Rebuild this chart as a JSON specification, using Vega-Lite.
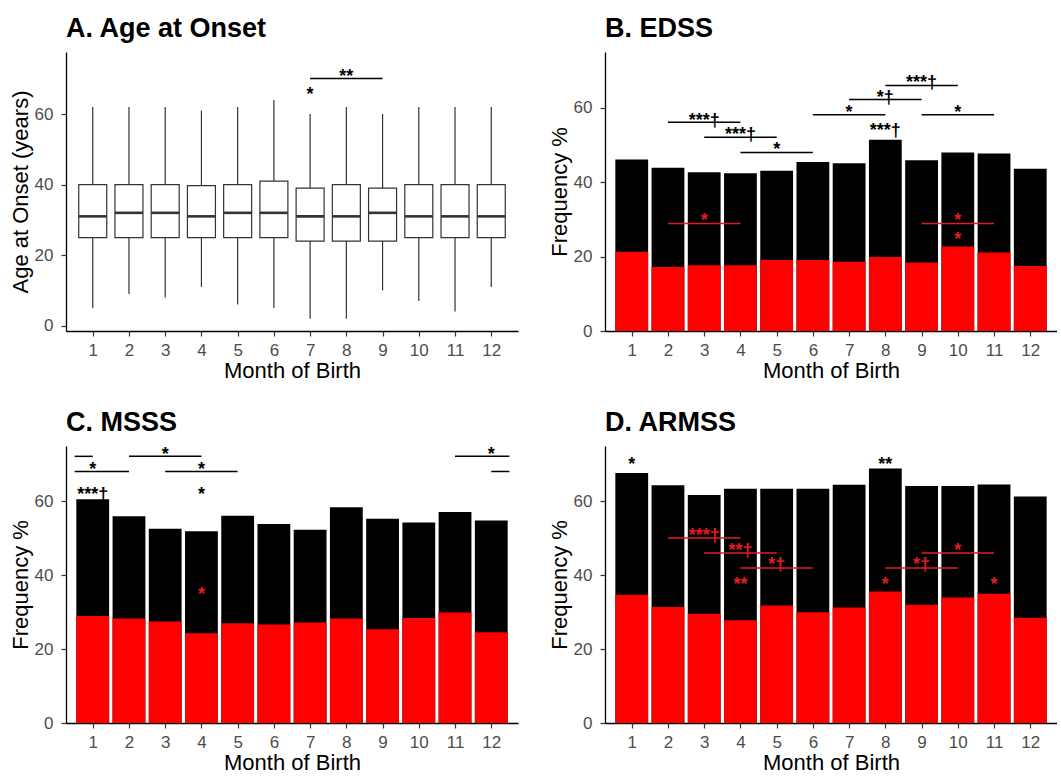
{
  "$schema": "https://vega.github.io/schema/vega-lite/v6.json",
  "padding": {"left": 9, "top": 15, "right": 0, "bottom": 0},
  "background": "white",
  "columns": 2,
  "spacing": {"row": 115, "column": 87},
  "bounds": "flush",
  "config": {
    "font": "Liberation Sans",
    "view": {"stroke": null},
    "axis": {"grid": false, "domainColor": "black", "domainWidth": 1.3, "tickColor": "#333333", "tickWidth": 1.2, "tickSize": 5, "labelColor": "#4d4d4d", "labelFontSize": 17, "labelFont": "Liberation Sans", "titleFont": "Liberation Sans", "titleFontSize": 22, "titleFontWeight": "normal", "titleColor": "black", "labelFlush": false},
    "axisX": {"labelPadding": 6, "titlePadding": 2},
    "axisY": {"labelPadding": 8, "titlePadding": 2},
    "title": {"anchor": "start", "frame": "group", "fontSize": 27, "fontWeight": "bold", "font": "Liberation Sans", "color": "black", "offset": 9, "baseline": "alphabetic"}
  },
  "datasets": {
    "box": [
      {"month": 1, "lo": 5, "q1": 25, "med": 31, "q3": 40, "hi": 62},
      {"month": 2, "lo": 9, "q1": 25, "med": 32, "q3": 40, "hi": 62},
      {"month": 3, "lo": 8, "q1": 25, "med": 32, "q3": 40, "hi": 62},
      {"month": 4, "lo": 11, "q1": 25, "med": 31, "q3": 39.7, "hi": 61},
      {"month": 5, "lo": 6, "q1": 25, "med": 32, "q3": 40, "hi": 62},
      {"month": 6, "lo": 5, "q1": 25, "med": 32, "q3": 41, "hi": 64},
      {"month": 7, "lo": 2, "q1": 24, "med": 31, "q3": 39, "hi": 60},
      {"month": 8, "lo": 2, "q1": 24, "med": 31, "q3": 40, "hi": 62},
      {"month": 9, "lo": 10, "q1": 24, "med": 32, "q3": 39, "hi": 60},
      {"month": 10, "lo": 7, "q1": 25, "med": 31, "q3": 40, "hi": 62},
      {"month": 11, "lo": 4, "q1": 25, "med": 31, "q3": 40, "hi": 62},
      {"month": 12, "lo": 11, "q1": 25, "med": 31, "q3": 40, "hi": 62}
    ],
    "segA": [{"month": 7, "month2": 9, "y": 70.1, "color": "black"}],
    "txtA": [
      {"month": 8, "y": 71.8, "label": "**", "color": "black"},
      {"month": 7, "y": 66.9, "label": "*", "color": "black"}
    ],
    "edss": [
      {"month": 1, "total": 46.1, "red": 21.3},
      {"month": 2, "total": 43.9, "red": 17.2},
      {"month": 3, "total": 42.7, "red": 17.7},
      {"month": 4, "total": 42.4, "red": 17.7},
      {"month": 5, "total": 43.1, "red": 19.1},
      {"month": 6, "total": 45.4, "red": 19.1},
      {"month": 7, "total": 45.1, "red": 18.6},
      {"month": 8, "total": 51.4, "red": 19.9},
      {"month": 9, "total": 45.9, "red": 18.4},
      {"month": 10, "total": 48.0, "red": 22.7},
      {"month": 11, "total": 47.7, "red": 21.1},
      {"month": 12, "total": 43.6, "red": 17.5}
    ],
    "segB": [
      {"month": 2, "month2": 4, "y": 56.1, "color": "black"},
      {"month": 3, "month2": 5, "y": 52.1, "color": "black"},
      {"month": 4, "month2": 6, "y": 48.0, "color": "black"},
      {"month": 6, "month2": 8, "y": 58.1, "color": "black"},
      {"month": 7, "month2": 9, "y": 62.2, "color": "black"},
      {"month": 8, "month2": 10, "y": 66.0, "color": "black"},
      {"month": 9, "month2": 11, "y": 58.1, "color": "black"},
      {"month": 2, "month2": 4, "y": 28.9, "color": "#e01e1e"},
      {"month": 9, "month2": 11, "y": 28.9, "color": "#e01e1e"}
    ],
    "txtB": [
      {"month": 3, "y": 57.9, "label": "***†", "color": "black"},
      {"month": 4, "y": 54.1, "label": "***†", "color": "black"},
      {"month": 5, "y": 50.0, "label": "*", "color": "black"},
      {"month": 7, "y": 59.9, "label": "*", "color": "black"},
      {"month": 8, "y": 64.0, "label": "*†", "color": "black"},
      {"month": 9, "y": 68.0, "label": "***†", "color": "black"},
      {"month": 10, "y": 59.9, "label": "*", "color": "black"},
      {"month": 8, "y": 55.0, "label": "***†", "color": "black"},
      {"month": 3, "y": 30.9, "label": "*", "color": "#e01e1e"},
      {"month": 10, "y": 30.9, "label": "*", "color": "#e01e1e"},
      {"month": 10, "y": 25.9, "label": "*", "color": "#e01e1e"}
    ],
    "msss": [
      {"month": 1, "total": 60.6, "red": 29.0},
      {"month": 2, "total": 56.0, "red": 28.3},
      {"month": 3, "total": 52.6, "red": 27.5},
      {"month": 4, "total": 51.9, "red": 24.3},
      {"month": 5, "total": 56.1, "red": 27.0},
      {"month": 6, "total": 53.9, "red": 26.7},
      {"month": 7, "total": 52.3, "red": 27.2},
      {"month": 8, "total": 58.4, "red": 28.3},
      {"month": 9, "total": 55.3, "red": 25.4},
      {"month": 10, "total": 54.3, "red": 28.4},
      {"month": 11, "total": 57.1, "red": 29.9},
      {"month": 12, "total": 54.8, "red": 24.6}
    ],
    "segC": [
      {"month": 0.5, "month2": 1, "y": 72.2, "color": "black"},
      {"month": 11, "month2": 12.5, "y": 72.2, "color": "black"},
      {"month": 2, "month2": 4, "y": 72.2, "color": "black"},
      {"month": 0.5, "month2": 2, "y": 68.1, "color": "black"},
      {"month": 12, "month2": 12.5, "y": 68.1, "color": "black"},
      {"month": 3, "month2": 5, "y": 68.1, "color": "black"}
    ],
    "txtC": [
      {"month": 12, "y": 74.0, "label": "*", "color": "black"},
      {"month": 3, "y": 74.0, "label": "*", "color": "black"},
      {"month": 1, "y": 69.9, "label": "*", "color": "black"},
      {"month": 4, "y": 69.9, "label": "*", "color": "black"},
      {"month": 1, "y": 63.2, "label": "***†", "color": "black"},
      {"month": 4, "y": 63.2, "label": "*", "color": "black"},
      {"month": 4, "y": 36.1, "label": "*", "color": "#e01e1e"}
    ],
    "armss": [
      {"month": 1, "total": 67.7, "red": 34.7},
      {"month": 2, "total": 64.4, "red": 31.4},
      {"month": 3, "total": 61.7, "red": 29.6},
      {"month": 4, "total": 63.4, "red": 27.8},
      {"month": 5, "total": 63.4, "red": 31.8},
      {"month": 6, "total": 63.4, "red": 30.0},
      {"month": 7, "total": 64.5, "red": 31.3},
      {"month": 8, "total": 68.9, "red": 35.6},
      {"month": 9, "total": 64.2, "red": 32.0},
      {"month": 10, "total": 64.2, "red": 34.0},
      {"month": 11, "total": 64.6, "red": 35.0},
      {"month": 12, "total": 61.3, "red": 28.5}
    ],
    "segD": [
      {"month": 2, "month2": 4, "y": 50.1, "color": "#e01e1e"},
      {"month": 3, "month2": 5, "y": 46.0, "color": "#e01e1e"},
      {"month": 4, "month2": 6, "y": 42.0, "color": "#e01e1e"},
      {"month": 8, "month2": 10, "y": 42.0, "color": "#e01e1e"},
      {"month": 9, "month2": 11, "y": 46.0, "color": "#e01e1e"}
    ],
    "txtD": [
      {"month": 1, "y": 71.1, "label": "*", "color": "black"},
      {"month": 8, "y": 71.1, "label": "**", "color": "black"},
      {"month": 3, "y": 51.9, "label": "***†", "color": "#e01e1e"},
      {"month": 4, "y": 48.0, "label": "**†", "color": "#e01e1e"},
      {"month": 5, "y": 44.0, "label": "*†", "color": "#e01e1e"},
      {"month": 9, "y": 44.0, "label": "*†", "color": "#e01e1e"},
      {"month": 10, "y": 48.0, "label": "*", "color": "#e01e1e"},
      {"month": 4, "y": 38.8, "label": "**", "color": "#e01e1e"},
      {"month": 8, "y": 38.8, "label": "*", "color": "#e01e1e"},
      {"month": 11, "y": 38.8, "label": "*", "color": "#e01e1e"}
    ]
  },
  "concat": [
    {
      "width": 452, "height": 279,
      "title": {"text": "A. Age at Onset"},
      "layer": [
        {"data": {"name": "box"}, "mark": {"type": "rule", "color": "#333333", "strokeWidth": 1.2},
         "encoding": {
           "x": {"field": "month", "type": "quantitative", "title": "Month of Birth", "scale": {"domain": [0.4, 12.6], "nice": false, "zero": false}, "axis": {"values": [1,2,3,4,5,6,7,8,9,10,11,12], "format": "d"}},
           "y": {"field": "lo", "type": "quantitative", "title": "Age at Onset (years)", "scale": {"domain": [-1.5, 77.6], "nice": false, "zero": false}, "axis": {"values": [0, 20, 40, 60]}},
           "y2": {"field": "hi"}}},
        {"data": {"name": "box"}, "mark": {"type": "bar", "size": 28, "fill": "white", "stroke": "#333333", "strokeWidth": 1.2},
         "encoding": {
           "x": {"field": "month", "type": "quantitative", "title": "Month of Birth"},
           "y": {"field": "q1", "type": "quantitative", "title": "Age at Onset (years)"},
           "y2": {"field": "q3"}}},
        {"data": {"name": "box"}, "mark": {"type": "tick", "orient": "horizontal", "size": 28, "thickness": 2.6, "color": "#333333", "opacity": 1},
         "encoding": {
           "x": {"field": "month", "type": "quantitative", "title": "Month of Birth"},
           "y": {"field": "med", "type": "quantitative", "title": "Age at Onset (years)"}}},
        {"data": {"name": "segA"}, "mark": {"type": "rule", "strokeWidth": 1.5},
         "encoding": {
           "x": {"field": "month", "type": "quantitative", "title": "Month of Birth"},
           "x2": {"field": "month2"},
           "y": {"field": "y", "type": "quantitative", "title": "Age at Onset (years)"},
           "color": {"field": "color", "type": "nominal", "scale": null}}},
        {"data": {"name": "txtA"}, "mark": {"type": "text", "fontSize": 18, "fontWeight": "bold", "baseline": "middle", "align": "center", "dy": 5},
         "encoding": {
           "x": {"field": "month", "type": "quantitative", "title": "Month of Birth"},
           "y": {"field": "y", "type": "quantitative", "title": "Age at Onset (years)"},
           "text": {"field": "label"},
           "color": {"field": "color", "type": "nominal", "scale": null}}}
      ]
    },
    {
      "width": 452, "height": 279,
      "title": {"text": "B. EDSS"},
      "layer": [
        {"data": {"name": "edss"}, "mark": {"type": "bar", "size": 32.8, "color": "black"},
         "encoding": {
           "x": {"field": "month", "type": "quantitative", "title": "Month of Birth", "scale": {"domain": [0.4, 12.6], "nice": false, "zero": false}, "axis": {"values": [1,2,3,4,5,6,7,8,9,10,11,12], "format": "d"}},
           "y": {"field": "total", "type": "quantitative", "title": "Frequency %", "scale": {"domain": [0, 75], "nice": false}, "axis": {"values": [0, 20, 40, 60]}}}},
        {"data": {"name": "edss"}, "mark": {"type": "bar", "size": 32.8, "color": "#ff0000"},
         "encoding": {
           "x": {"field": "month", "type": "quantitative", "title": "Month of Birth"},
           "y": {"field": "red", "type": "quantitative", "title": "Frequency %"}}},
        {"data": {"name": "segB"}, "mark": {"type": "rule", "strokeWidth": 1.5},
         "encoding": {
           "x": {"field": "month", "type": "quantitative", "title": "Month of Birth"},
           "x2": {"field": "month2"},
           "y": {"field": "y", "type": "quantitative", "title": "Frequency %"},
           "color": {"field": "color", "type": "nominal", "scale": null}}},
        {"data": {"name": "txtB"}, "mark": {"type": "text", "fontSize": 18, "fontWeight": "bold", "baseline": "middle", "align": "center", "dy": 5},
         "encoding": {
           "x": {"field": "month", "type": "quantitative", "title": "Month of Birth"},
           "y": {"field": "y", "type": "quantitative", "title": "Frequency %"},
           "text": {"field": "label"},
           "color": {"field": "color", "type": "nominal", "scale": null}}}
      ]
    },
    {
      "width": 452, "height": 277,
      "title": {"text": "C. MSSS"},
      "layer": [
        {"data": {"name": "msss"}, "mark": {"type": "bar", "size": 32.8, "color": "black"},
         "encoding": {
           "x": {"field": "month", "type": "quantitative", "title": "Month of Birth", "scale": {"domain": [0.4, 12.6], "nice": false, "zero": false}, "axis": {"values": [1,2,3,4,5,6,7,8,9,10,11,12], "format": "d"}},
           "y": {"field": "total", "type": "quantitative", "title": "Frequency %", "scale": {"domain": [0, 75], "nice": false}, "axis": {"values": [0, 20, 40, 60]}}}},
        {"data": {"name": "msss"}, "mark": {"type": "bar", "size": 32.8, "color": "#ff0000"},
         "encoding": {
           "x": {"field": "month", "type": "quantitative", "title": "Month of Birth"},
           "y": {"field": "red", "type": "quantitative", "title": "Frequency %"}}},
        {"data": {"name": "segC"}, "mark": {"type": "rule", "strokeWidth": 1.5},
         "encoding": {
           "x": {"field": "month", "type": "quantitative", "title": "Month of Birth"},
           "x2": {"field": "month2"},
           "y": {"field": "y", "type": "quantitative", "title": "Frequency %"},
           "color": {"field": "color", "type": "nominal", "scale": null}}},
        {"data": {"name": "txtC"}, "mark": {"type": "text", "fontSize": 18, "fontWeight": "bold", "baseline": "middle", "align": "center", "dy": 5},
         "encoding": {
           "x": {"field": "month", "type": "quantitative", "title": "Month of Birth"},
           "y": {"field": "y", "type": "quantitative", "title": "Frequency %"},
           "text": {"field": "label"},
           "color": {"field": "color", "type": "nominal", "scale": null}}}
      ]
    },
    {
      "width": 452, "height": 277,
      "title": {"text": "D. ARMSS"},
      "layer": [
        {"data": {"name": "armss"}, "mark": {"type": "bar", "size": 32.8, "color": "black"},
         "encoding": {
           "x": {"field": "month", "type": "quantitative", "title": "Month of Birth", "scale": {"domain": [0.4, 12.6], "nice": false, "zero": false}, "axis": {"values": [1,2,3,4,5,6,7,8,9,10,11,12], "format": "d"}},
           "y": {"field": "total", "type": "quantitative", "title": "Frequency %", "scale": {"domain": [0, 75], "nice": false}, "axis": {"values": [0, 20, 40, 60]}}}},
        {"data": {"name": "armss"}, "mark": {"type": "bar", "size": 32.8, "color": "#ff0000"},
         "encoding": {
           "x": {"field": "month", "type": "quantitative", "title": "Month of Birth"},
           "y": {"field": "red", "type": "quantitative", "title": "Frequency %"}}},
        {"data": {"name": "segD"}, "mark": {"type": "rule", "strokeWidth": 1.5},
         "encoding": {
           "x": {"field": "month", "type": "quantitative", "title": "Month of Birth"},
           "x2": {"field": "month2"},
           "y": {"field": "y", "type": "quantitative", "title": "Frequency %"},
           "color": {"field": "color", "type": "nominal", "scale": null}}},
        {"data": {"name": "txtD"}, "mark": {"type": "text", "fontSize": 18, "fontWeight": "bold", "baseline": "middle", "align": "center", "dy": 5},
         "encoding": {
           "x": {"field": "month", "type": "quantitative", "title": "Month of Birth"},
           "y": {"field": "y", "type": "quantitative", "title": "Frequency %"},
           "text": {"field": "label"},
           "color": {"field": "color", "type": "nominal", "scale": null}}}
      ]
    }
  ]
}
